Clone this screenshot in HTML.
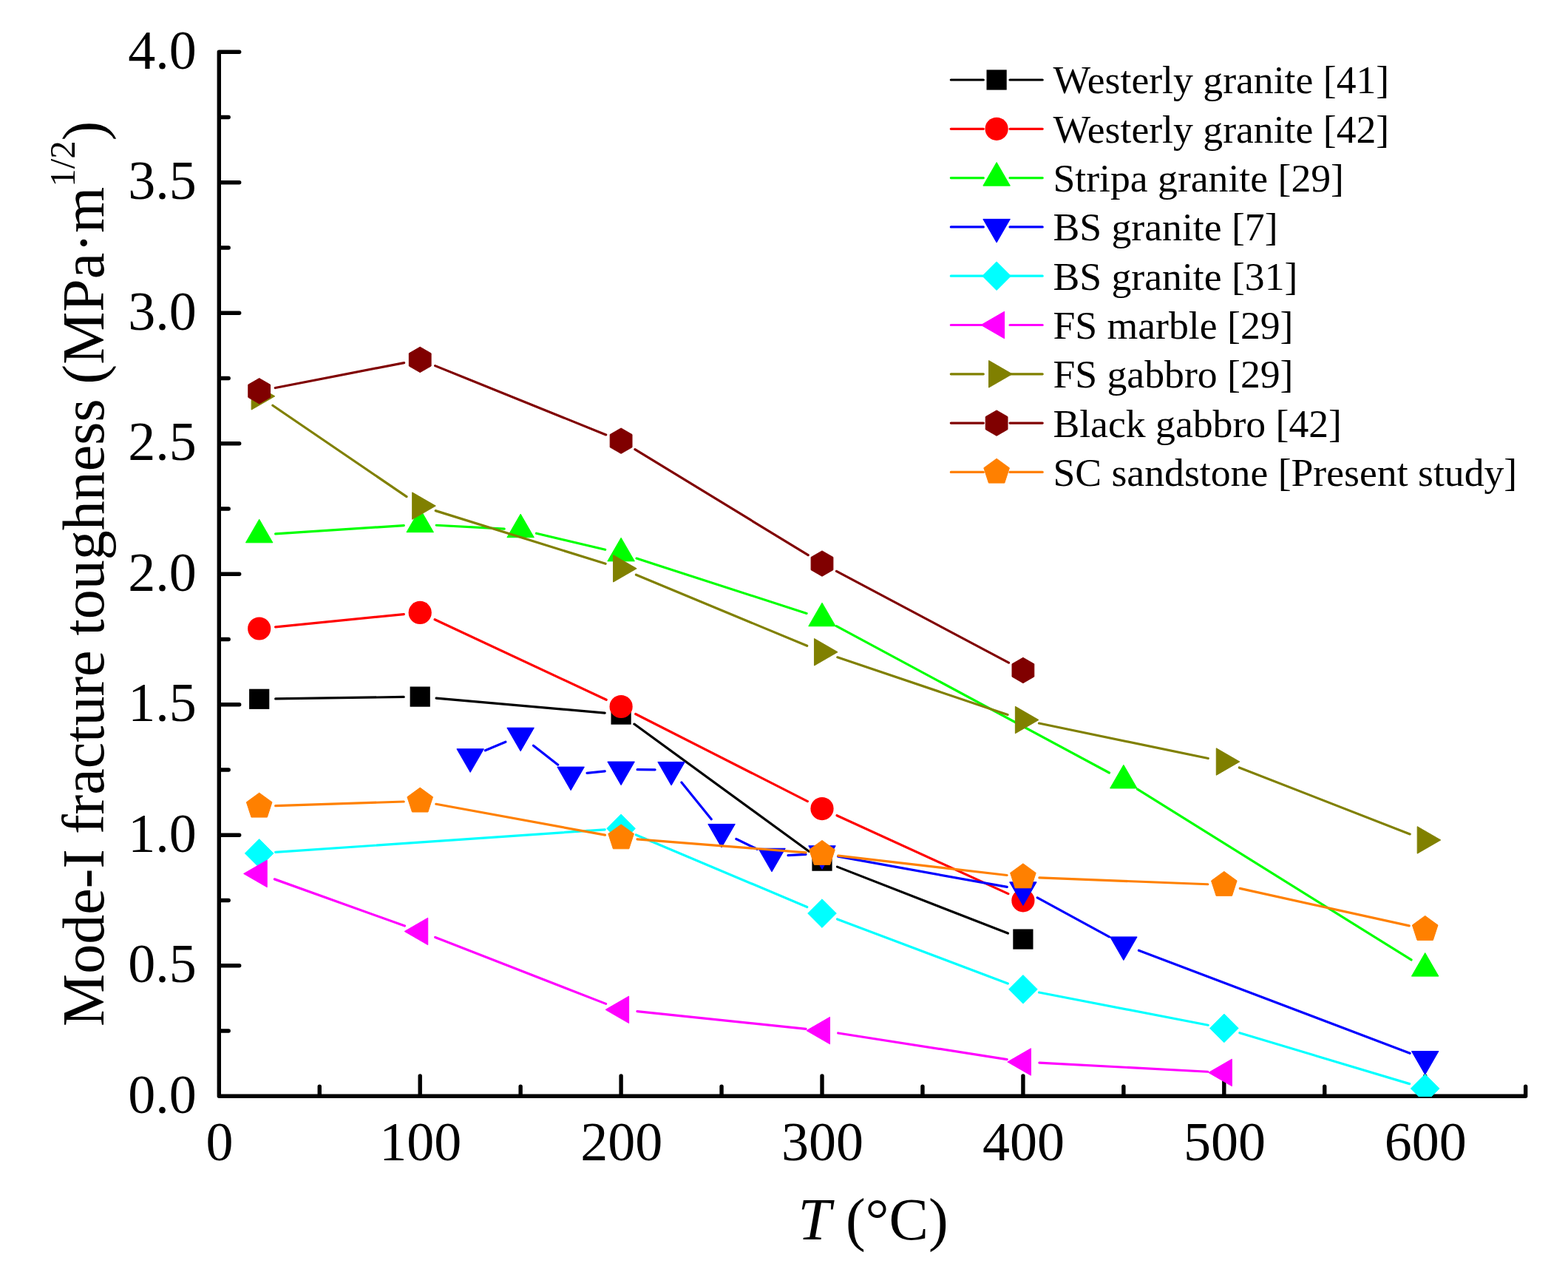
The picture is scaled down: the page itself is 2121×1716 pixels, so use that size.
<!DOCTYPE html>
<html><head><meta charset="utf-8"><title>Mode-I fracture toughness vs T</title>
<style>html,body{margin:0;padding:0;background:#fff;}svg{display:block;}</style>
</head><body>
<svg width="2121" height="1716" viewBox="0 0 2121 1716">
<rect width="2121" height="1716" fill="#fff"/>
<path d="M296.30,70.20L296.30,1482.20L2063.65,1482.20M296.30,1482.20h27.4M296.30,1393.95h12.9M296.30,1305.70h27.4M296.30,1217.45h12.9M296.30,1129.20h27.4M296.30,1040.95h12.9M296.30,952.70h27.4M296.30,864.45h12.9M296.30,776.20h27.4M296.30,687.95h12.9M296.30,599.70h27.4M296.30,511.45h12.9M296.30,423.20h27.4M296.30,334.95h12.9M296.30,246.70h27.4M296.30,158.45h12.9M296.30,70.20h27.4M296.30,1482.20v-27.2M432.25,1482.20v-12.9M568.20,1482.20v-27.2M704.15,1482.20v-12.9M840.10,1482.20v-27.2M976.05,1482.20v-12.9M1112.00,1482.20v-27.2M1247.95,1482.20v-12.9M1383.90,1482.20v-27.2M1519.85,1482.20v-12.9M1655.80,1482.20v-27.2M1791.75,1482.20v-12.9M1927.70,1482.20v-27.2M2063.65,1482.20v-12.9" stroke="#000" stroke-width="5.4" stroke-linecap="round" stroke-linejoin="round" fill="none"/>
<defs><clipPath id="pa"><rect x="296.30" y="40.20" width="1797.35" height="1442.80"/></clipPath></defs>
<g clip-path="url(#pa)">
<path d="M372.68,944.97L546.20,942.43M590.11,944.04L818.19,964.18M857.88,979.07L1094.22,1151.19M1132.50,1172.13L1363.40,1262.06" stroke="#000000" stroke-width="3.2" stroke-linecap="round" fill="none"/>
<rect x="337.08" y="931.69" width="27.20" height="27.20" fill="#000000"/>
<rect x="554.60" y="928.51" width="27.20" height="27.20" fill="#000000"/>
<rect x="826.50" y="952.51" width="27.20" height="27.20" fill="#000000"/>
<rect x="1098.40" y="1150.55" width="27.20" height="27.20" fill="#000000"/>
<rect x="1370.30" y="1256.45" width="27.20" height="27.20" fill="#000000"/>
<path d="M372.57,847.81L546.31,830.61M588.13,837.76L820.17,946.21M859.72,965.48L1092.38,1083.59M1132.01,1102.69L1363.89,1208.66" stroke="#FF0000" stroke-width="3.2" stroke-linecap="round" fill="none"/>
<circle cx="350.68" cy="849.98" r="15.6" fill="#FF0000"/>
<circle cx="568.20" cy="828.44" r="15.6" fill="#FF0000"/>
<circle cx="840.10" cy="955.52" r="15.6" fill="#FF0000"/>
<circle cx="1112.00" cy="1093.55" r="15.6" fill="#FF0000"/>
<circle cx="1383.90" cy="1217.80" r="15.6" fill="#FF0000"/>
<path d="M372.63,721.82L546.25,710.56M590.17,710.27L682.18,715.05M725.56,721.25L818.69,743.25M861.03,755.08L1091.07,829.44M1131.38,846.63L1500.47,1045.01M1538.52,1067.06L1909.03,1297.95" stroke="#00FF00" stroke-width="3.2" stroke-linecap="round" fill="none"/>
<polygon points="350.68,702.18 368.93,733.79 332.43,733.79" fill="#00FF00" stroke="#00FF00" stroke-width="1" stroke-linejoin="round"/>
<polygon points="568.20,688.06 586.45,719.67 549.95,719.67" fill="#00FF00" stroke="#00FF00" stroke-width="1" stroke-linejoin="round"/>
<polygon points="704.15,695.12 722.40,726.73 685.90,726.73" fill="#00FF00" stroke="#00FF00" stroke-width="1" stroke-linejoin="round"/>
<polygon points="840.10,727.24 858.35,758.85 821.85,758.85" fill="#00FF00" stroke="#00FF00" stroke-width="1" stroke-linejoin="round"/>
<polygon points="1112.00,815.14 1130.25,846.75 1093.75,846.75" fill="#00FF00" stroke="#00FF00" stroke-width="1" stroke-linejoin="round"/>
<polygon points="1519.85,1034.35 1538.10,1065.96 1501.60,1065.96" fill="#00FF00" stroke="#00FF00" stroke-width="1" stroke-linejoin="round"/>
<polygon points="1927.70,1288.51 1945.95,1320.12 1909.45,1320.12" fill="#00FF00" stroke="#00FF00" stroke-width="1" stroke-linejoin="round"/>
<path d="M656.45,1014.77L683.87,1003.24M721.51,1008.23L754.77,1034.14M794.01,1045.38L818.22,1042.87M862.10,1040.71L886.08,1040.84M921.91,1058.05L962.21,1107.86M995.86,1134.53L1024.21,1148.23M1066.00,1156.65L1090.03,1155.40M1133.65,1158.17L1362.25,1199.42M1403.22,1213.86L1500.53,1266.93M1540.42,1285.26L1907.13,1424.28" stroke="#0000FF" stroke-width="3.2" stroke-linecap="round" fill="none"/>
<polygon points="636.17,1044.37 617.92,1012.76 654.42,1012.76" fill="#0000FF" stroke="#0000FF" stroke-width="1" stroke-linejoin="round"/>
<polygon points="704.15,1015.78 685.90,984.17 722.40,984.17" fill="#0000FF" stroke="#0000FF" stroke-width="1" stroke-linejoin="round"/>
<polygon points="772.12,1068.73 753.88,1037.12 790.38,1037.12" fill="#0000FF" stroke="#0000FF" stroke-width="1" stroke-linejoin="round"/>
<polygon points="840.10,1061.67 821.85,1030.06 858.35,1030.06" fill="#0000FF" stroke="#0000FF" stroke-width="1" stroke-linejoin="round"/>
<polygon points="908.08,1062.02 889.83,1030.41 926.33,1030.41" fill="#0000FF" stroke="#0000FF" stroke-width="1" stroke-linejoin="round"/>
<polygon points="976.05,1146.04 957.80,1114.43 994.30,1114.43" fill="#0000FF" stroke="#0000FF" stroke-width="1" stroke-linejoin="round"/>
<polygon points="1044.02,1178.87 1025.77,1147.26 1062.27,1147.26" fill="#0000FF" stroke="#0000FF" stroke-width="1" stroke-linejoin="round"/>
<polygon points="1112.00,1175.34 1093.75,1143.73 1130.25,1143.73" fill="#0000FF" stroke="#0000FF" stroke-width="1" stroke-linejoin="round"/>
<polygon points="1383.90,1224.40 1365.65,1192.79 1402.15,1192.79" fill="#0000FF" stroke="#0000FF" stroke-width="1" stroke-linejoin="round"/>
<polygon points="1519.85,1298.53 1501.60,1266.92 1538.10,1266.92" fill="#0000FF" stroke="#0000FF" stroke-width="1" stroke-linejoin="round"/>
<polygon points="1927.70,1453.15 1909.45,1421.54 1945.95,1421.54" fill="#0000FF" stroke="#0000FF" stroke-width="1" stroke-linejoin="round"/>
<path d="M372.63,1152.41L818.15,1121.88M860.37,1128.93L1091.73,1226.55M1132.58,1242.88L1363.32,1330.05M1405.50,1342.00L1634.20,1386.24M1676.87,1396.74L1906.63,1465.64" stroke="#00FFFF" stroke-width="3.2" stroke-linecap="round" fill="none"/>
<polygon points="350.68,1134.61 369.98,1153.91 350.68,1173.21 331.38,1153.91" fill="#00FFFF" stroke="#00FFFF" stroke-width="1" stroke-linejoin="round"/>
<polygon points="840.10,1101.08 859.40,1120.38 840.10,1139.67 820.80,1120.38" fill="#00FFFF" stroke="#00FFFF" stroke-width="1" stroke-linejoin="round"/>
<polygon points="1112.00,1215.80 1131.30,1235.10 1112.00,1254.40 1092.70,1235.10" fill="#00FFFF" stroke="#00FFFF" stroke-width="1" stroke-linejoin="round"/>
<polygon points="1383.90,1318.52 1403.20,1337.82 1383.90,1357.12 1364.60,1337.82" fill="#00FFFF" stroke="#00FFFF" stroke-width="1" stroke-linejoin="round"/>
<polygon points="1655.80,1371.12 1675.10,1390.42 1655.80,1409.72 1636.50,1390.42" fill="#00FFFF" stroke="#00FFFF" stroke-width="1" stroke-linejoin="round"/>
<polygon points="1927.70,1452.66 1947.00,1471.96 1927.70,1491.26 1908.40,1471.96" fill="#00FFFF" stroke="#00FFFF" stroke-width="1" stroke-linejoin="round"/>
<path d="M371.39,1188.87L547.49,1252.03M588.70,1267.44L819.60,1357.37M861.98,1367.63L1090.12,1391.32M1133.74,1396.98L1362.16,1432.57M1405.87,1437.13L1633.83,1449.26" stroke="#FF00FF" stroke-width="3.2" stroke-linecap="round" fill="none"/>
<polygon points="329.61,1181.44 361.22,1163.19 361.22,1199.69" fill="#FF00FF" stroke="#FF00FF" stroke-width="1" stroke-linejoin="round"/>
<polygon points="547.13,1259.46 578.74,1241.21 578.74,1277.71" fill="#FF00FF" stroke="#FF00FF" stroke-width="1" stroke-linejoin="round"/>
<polygon points="819.03,1365.36 850.64,1347.11 850.64,1383.61" fill="#FF00FF" stroke="#FF00FF" stroke-width="1" stroke-linejoin="round"/>
<polygon points="1090.93,1393.60 1122.54,1375.35 1122.54,1411.85" fill="#FF00FF" stroke="#FF00FF" stroke-width="1" stroke-linejoin="round"/>
<polygon points="1362.83,1435.96 1394.44,1417.71 1394.44,1454.21" fill="#FF00FF" stroke="#FF00FF" stroke-width="1" stroke-linejoin="round"/>
<polygon points="1634.73,1450.43 1666.34,1432.18 1666.34,1468.68" fill="#FF00FF" stroke="#FF00FF" stroke-width="1" stroke-linejoin="round"/>
<path d="M368.86,548.20L550.02,671.68M589.20,690.61L819.10,762.24M860.42,777.23L1091.68,873.31M1132.84,888.78L1363.06,966.49M1405.44,978.00L1634.26,1025.53M1676.30,1037.99L1907.20,1127.92" stroke="#808000" stroke-width="3.2" stroke-linecap="round" fill="none"/>
<polygon points="371.75,535.81 340.14,554.06 340.14,517.56" fill="#808000" stroke="#808000" stroke-width="1" stroke-linejoin="round"/>
<polygon points="589.27,684.07 557.66,702.32 557.66,665.82" fill="#808000" stroke="#808000" stroke-width="1" stroke-linejoin="round"/>
<polygon points="861.17,768.79 829.56,787.04 829.56,750.54" fill="#808000" stroke="#808000" stroke-width="1" stroke-linejoin="round"/>
<polygon points="1133.07,881.75 1101.46,900.00 1101.46,863.50" fill="#808000" stroke="#808000" stroke-width="1" stroke-linejoin="round"/>
<polygon points="1404.97,973.53 1373.36,991.78 1373.36,955.28" fill="#808000" stroke="#808000" stroke-width="1" stroke-linejoin="round"/>
<polygon points="1676.87,1030.01 1645.26,1048.26 1645.26,1011.76" fill="#808000" stroke="#808000" stroke-width="1" stroke-linejoin="round"/>
<polygon points="1948.77,1135.91 1917.16,1154.16 1917.16,1117.66" fill="#808000" stroke="#808000" stroke-width="1" stroke-linejoin="round"/>
<path d="M372.27,524.54L546.61,490.59M588.60,494.62L819.70,587.93M858.88,607.63L1093.22,750.62M1131.43,772.40L1364.47,896.14" stroke="#800000" stroke-width="3.2" stroke-linecap="round" fill="none"/>
<polygon points="350.68,511.55 365.58,520.15 365.58,537.35 350.68,545.95 335.78,537.35 335.78,520.15" fill="#800000" stroke="#800000" stroke-width="1" stroke-linejoin="round"/>
<polygon points="568.20,469.19 583.10,477.79 583.10,494.99 568.20,503.59 553.30,494.99 553.30,477.79" fill="#800000" stroke="#800000" stroke-width="1" stroke-linejoin="round"/>
<polygon points="840.10,578.97 855.00,587.57 855.00,604.77 840.10,613.37 825.20,604.77 825.20,587.57" fill="#800000" stroke="#800000" stroke-width="1" stroke-linejoin="round"/>
<polygon points="1112.00,744.88 1126.90,753.48 1126.90,770.68 1112.00,779.28 1097.10,770.68 1097.10,753.48" fill="#800000" stroke="#800000" stroke-width="1" stroke-linejoin="round"/>
<polygon points="1383.90,889.26 1398.80,897.86 1398.80,915.06 1383.90,923.66 1369.00,915.06 1369.00,897.86" fill="#800000" stroke="#800000" stroke-width="1" stroke-linejoin="round"/>
<path d="M372.67,1089.66L546.21,1084.02M589.84,1087.27L818.46,1129.12M862.03,1134.82L1090.07,1152.88M1133.85,1157.14L1362.05,1183.51M1405.88,1186.89L1633.82,1195.77M1677.28,1201.36L1906.22,1251.89" stroke="#FF8000" stroke-width="3.2" stroke-linecap="round" fill="none"/>
<polygon points="350.68,1072.17 367.99,1084.75 361.38,1105.09 339.98,1105.09 333.37,1084.75" fill="#FF8000" stroke="#FF8000" stroke-width="1" stroke-linejoin="round"/>
<polygon points="568.20,1065.11 585.51,1077.69 578.90,1098.03 557.50,1098.03 550.89,1077.69" fill="#FF8000" stroke="#FF8000" stroke-width="1" stroke-linejoin="round"/>
<polygon points="840.10,1114.88 857.41,1127.46 850.80,1147.81 829.40,1147.81 822.79,1127.46" fill="#FF8000" stroke="#FF8000" stroke-width="1" stroke-linejoin="round"/>
<polygon points="1112.00,1136.42 1129.31,1148.99 1122.70,1169.34 1101.30,1169.34 1094.69,1148.99" fill="#FF8000" stroke="#FF8000" stroke-width="1" stroke-linejoin="round"/>
<polygon points="1383.90,1167.83 1401.21,1180.41 1394.60,1200.76 1373.20,1200.76 1366.59,1180.41" fill="#FF8000" stroke="#FF8000" stroke-width="1" stroke-linejoin="round"/>
<polygon points="1655.80,1178.42 1673.11,1191.00 1666.50,1211.35 1645.10,1211.35 1638.49,1191.00" fill="#FF8000" stroke="#FF8000" stroke-width="1" stroke-linejoin="round"/>
<polygon points="1927.70,1238.43 1945.01,1251.01 1938.40,1271.36 1917.00,1271.36 1910.39,1251.01" fill="#FF8000" stroke="#FF8000" stroke-width="1" stroke-linejoin="round"/>
</g>
<text x="265.8" y="1504.50" text-anchor="end" font-family="'Liberation Serif','Times New Roman',serif" font-size="74">0.0</text>
<text x="265.8" y="1328.00" text-anchor="end" font-family="'Liberation Serif','Times New Roman',serif" font-size="74">0.5</text>
<text x="265.8" y="1151.50" text-anchor="end" font-family="'Liberation Serif','Times New Roman',serif" font-size="74">1.0</text>
<text x="265.8" y="975.00" text-anchor="end" font-family="'Liberation Serif','Times New Roman',serif" font-size="74">1.5</text>
<text x="265.8" y="798.50" text-anchor="end" font-family="'Liberation Serif','Times New Roman',serif" font-size="74">2.0</text>
<text x="265.8" y="622.00" text-anchor="end" font-family="'Liberation Serif','Times New Roman',serif" font-size="74">2.5</text>
<text x="265.8" y="445.50" text-anchor="end" font-family="'Liberation Serif','Times New Roman',serif" font-size="74">3.0</text>
<text x="265.8" y="269.00" text-anchor="end" font-family="'Liberation Serif','Times New Roman',serif" font-size="74">3.5</text>
<text x="265.8" y="92.50" text-anchor="end" font-family="'Liberation Serif','Times New Roman',serif" font-size="74">4.0</text>
<text x="296.90" y="1568.6" text-anchor="middle" font-family="'Liberation Serif','Times New Roman',serif" font-size="74">0</text>
<text x="568.80" y="1568.6" text-anchor="middle" font-family="'Liberation Serif','Times New Roman',serif" font-size="74">100</text>
<text x="840.70" y="1568.6" text-anchor="middle" font-family="'Liberation Serif','Times New Roman',serif" font-size="74">200</text>
<text x="1112.60" y="1568.6" text-anchor="middle" font-family="'Liberation Serif','Times New Roman',serif" font-size="74">300</text>
<text x="1384.50" y="1568.6" text-anchor="middle" font-family="'Liberation Serif','Times New Roman',serif" font-size="74">400</text>
<text x="1656.40" y="1568.6" text-anchor="middle" font-family="'Liberation Serif','Times New Roman',serif" font-size="74">500</text>
<text x="1928.30" y="1568.6" text-anchor="middle" font-family="'Liberation Serif','Times New Roman',serif" font-size="74">600</text>
<text x="1181" y="1675.6" text-anchor="middle" font-family="'Liberation Serif','Times New Roman',serif" font-size="80"><tspan font-style="italic">T</tspan> (°C)</text>
<text transform="translate(139.5,1388) rotate(-90)" font-family="'Liberation Serif','Times New Roman',serif" font-size="80">Mode-I fracture toughness (MPa·m<tspan font-size="49" dy="-38.7">1/2</tspan><tspan dy="38.7">)</tspan></text>
<path d="M1286.3,108.00H1330.3M1366,108.00H1410.2" stroke="#000000" stroke-width="3.2" stroke-linecap="round"/>
<rect x="1334.50" y="94.40" width="27.20" height="27.20" fill="#000000"/>
<text x="1424.4" y="126.40" font-family="'Liberation Serif','Times New Roman',serif" font-size="53.7">Westerly granite [41]</text>
<path d="M1286.3,174.30H1330.3M1366,174.30H1410.2" stroke="#FF0000" stroke-width="3.2" stroke-linecap="round"/>
<circle cx="1348.10" cy="174.30" r="15.6" fill="#FF0000"/>
<text x="1424.4" y="192.70" font-family="'Liberation Serif','Times New Roman',serif" font-size="53.7">Westerly granite [42]</text>
<path d="M1286.3,240.60H1330.3M1366,240.60H1410.2" stroke="#00FF00" stroke-width="3.2" stroke-linecap="round"/>
<polygon points="1348.10,219.53 1366.35,251.14 1329.85,251.14" fill="#00FF00" stroke="#00FF00" stroke-width="1" stroke-linejoin="round"/>
<text x="1424.4" y="259.00" font-family="'Liberation Serif','Times New Roman',serif" font-size="53.7">Stripa granite [29]</text>
<path d="M1286.3,306.90H1330.3M1366,306.90H1410.2" stroke="#0000FF" stroke-width="3.2" stroke-linecap="round"/>
<polygon points="1348.10,327.97 1329.85,296.36 1366.35,296.36" fill="#0000FF" stroke="#0000FF" stroke-width="1" stroke-linejoin="round"/>
<text x="1424.4" y="325.30" font-family="'Liberation Serif','Times New Roman',serif" font-size="53.7">BS granite [7]</text>
<path d="M1286.3,373.20H1330.3M1366,373.20H1410.2" stroke="#00FFFF" stroke-width="3.2" stroke-linecap="round"/>
<polygon points="1348.10,353.90 1367.40,373.20 1348.10,392.50 1328.80,373.20" fill="#00FFFF" stroke="#00FFFF" stroke-width="1" stroke-linejoin="round"/>
<text x="1424.4" y="391.60" font-family="'Liberation Serif','Times New Roman',serif" font-size="53.7">BS granite [31]</text>
<path d="M1286.3,439.50H1330.3M1366,439.50H1410.2" stroke="#FF00FF" stroke-width="3.2" stroke-linecap="round"/>
<polygon points="1327.03,439.50 1358.64,421.25 1358.64,457.75" fill="#FF00FF" stroke="#FF00FF" stroke-width="1" stroke-linejoin="round"/>
<text x="1424.4" y="457.90" font-family="'Liberation Serif','Times New Roman',serif" font-size="53.7">FS marble [29]</text>
<path d="M1286.3,505.80H1330.3M1366,505.80H1410.2" stroke="#808000" stroke-width="3.2" stroke-linecap="round"/>
<polygon points="1369.17,505.80 1337.56,524.05 1337.56,487.55" fill="#808000" stroke="#808000" stroke-width="1" stroke-linejoin="round"/>
<text x="1424.4" y="524.20" font-family="'Liberation Serif','Times New Roman',serif" font-size="53.7">FS gabbro [29]</text>
<path d="M1286.3,572.10H1330.3M1366,572.10H1410.2" stroke="#800000" stroke-width="3.2" stroke-linecap="round"/>
<polygon points="1348.10,554.90 1363.00,563.50 1363.00,580.70 1348.10,589.30 1333.20,580.70 1333.20,563.50" fill="#800000" stroke="#800000" stroke-width="1" stroke-linejoin="round"/>
<text x="1424.4" y="590.50" font-family="'Liberation Serif','Times New Roman',serif" font-size="53.7">Black gabbro [42]</text>
<path d="M1286.3,638.40H1330.3M1366,638.40H1410.2" stroke="#FF8000" stroke-width="3.2" stroke-linecap="round"/>
<polygon points="1348.10,620.20 1365.41,632.78 1358.80,653.12 1337.40,653.12 1330.79,632.78" fill="#FF8000" stroke="#FF8000" stroke-width="1" stroke-linejoin="round"/>
<text x="1424.4" y="656.80" font-family="'Liberation Serif','Times New Roman',serif" font-size="53.7">SC sandstone [Present study]</text>
</svg>
</body></html>
